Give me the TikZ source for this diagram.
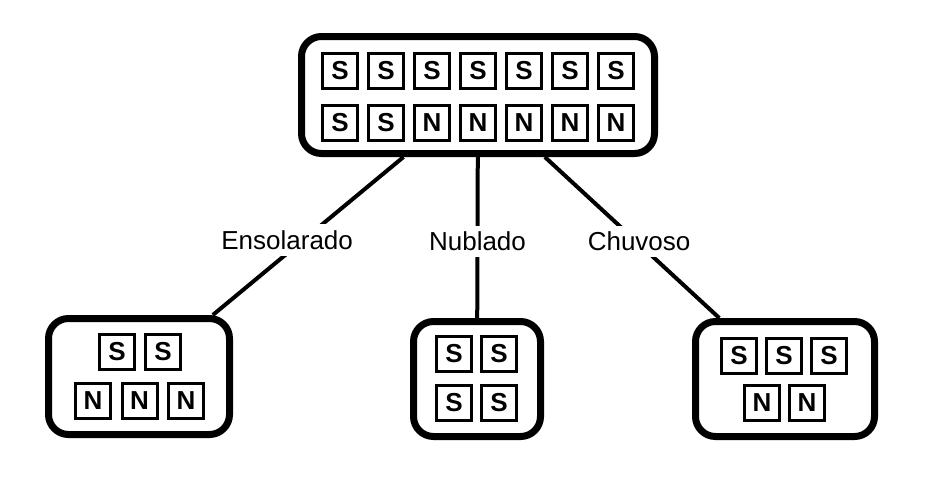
\documentclass[tikz,border=0pt]{standalone}
\usepackage{fontspec}
\setmainfont{Liberation Sans}

\begin{document}
\begin{tikzpicture}[x=1pt,y=-1pt]
	\tikzstyle{group} = [draw=black,line width=7pt,rounded corners=20pt,inner sep=0pt];
	\tikzstyle{cell} = [draw=black,line width=3pt,minimum size=35pt,inner sep=0pt,font=\fontsize{26}{26}\selectfont\bfseries];
	\tikzstyle{answer} = [fill=white,inner sep=6pt,yshift=-4pt,font=\fontsize{26}{30}\selectfont];
	\useasboundingbox (0, 0) rectangle (928, 480);
	% outer boxes
	\node[group,minimum width=353pt,minimum height=117pt] (all) at (478, 95) {};
	\node[group,minimum width=181pt,minimum height=116pt] (sun) at (139, 376.5) {};
	\node[group,minimum width=127pt,minimum height=115pt] (cloud) at (477, 379) {};
	\node[group,minimum width=179pt,minimum height=115pt] (rain) at (785, 379) {};
	% top box
	\node[cell] (a1) at (340, 70.5) {S};
	\node[cell] (a2) at (386, 70.5) {S};
	\node[cell] (a3) at (432, 70.5) {S};
	\node[cell] (a4) at (478, 70.5) {S};
	\node[cell] (a5) at (524, 70.5) {S};
	\node[cell] (a6) at (570, 70.5) {S};
	\node[cell] (a7) at (616, 70.5) {S};
	\node[cell] (b1) at (340, 123) {S};
	\node[cell] (b2) at (386, 123) {S};
	\node[cell] (b3) at (432, 123) {N};
	\node[cell] (b4) at (478, 123) {N};
	\node[cell] (b5) at (524, 123) {N};
	\node[cell] (b6) at (570, 123) {N};
	\node[cell] (b7) at (616, 123) {N};
	% ensolarado
	\node[cell] (sun1) at (117, 352) {S};
	\node[cell] (sun2) at (163, 352) {S};
	\node[cell] (sun3) at (93, 401) {N};
	\node[cell] (sun4) at (139.5, 401) {N};
	\node[cell] (sun5) at (186, 401) {N};
	% nublado
	\node[cell] (cloud1) at (454, 354) {S};
	\node[cell] (cloud2) at (499, 354) {S};
	\node[cell] (cloud3) at (454, 403) {S};
	\node[cell] (cloud4) at (499, 403) {S};
	% chuvoso
	\node[cell] (rain1) at (739, 356) {S};
	\node[cell] (rain2) at (784, 356) {S};
	\node[cell] (rain3) at (829, 356) {S};
	\node[cell] (rain4) at (762, 403) {N};
	\node[cell] (rain5) at (807, 403) {N};
	% branches
	\draw[-,line width=4pt] (all) edge node[answer,xshift=-21pt] {Ensolarado} (sun);
	\draw[-,line width=4pt] (all) edge node[answer] {Nublado} (cloud);
	\draw[-,line width=4pt] (all) edge node[answer,xshift=7pt] {Chuvoso} (rain);
\end{tikzpicture}
\end{document}
